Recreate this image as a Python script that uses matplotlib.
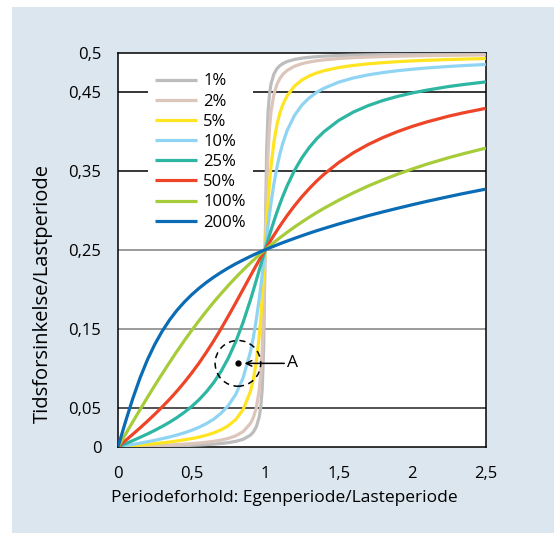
import matplotlib.pyplot as plt
from matplotlib.patches import Ellipse, Rectangle

plt.rcParams['font.family'] = ['Open Sans', 'DejaVu Sans']

# period ratio (eigenperiod / load period)
ratio = [0, 0.05, 0.1, 0.15, 0.2, 0.25, 0.3, 0.35, 0.4, 0.45, 0.5, 0.55, 0.6, 0.65, 0.7, 0.75,
         0.8, 0.85, 0.9, 0.92, 0.94, 0.96, 0.97, 0.98, 0.99, 1.0, 1.01, 1.02, 1.03, 1.04, 1.06,
         1.08, 1.1, 1.12, 1.15, 1.2, 1.25, 1.3, 1.35, 1.4, 1.5, 1.6, 1.7, 1.8, 1.9, 2.0, 2.1,
         2.25, 2.35, 2.5]

# time delay / load period, one list per damping level
d1 = [0, 0.0002, 0.0003, 0.0005, 0.0007, 0.0008, 0.0010, 0.0013, 0.0015, 0.0018, 0.0021, 0.0025,
      0.0030, 0.0036, 0.0044, 0.0055, 0.0071, 0.0097, 0.0150, 0.0190, 0.0255, 0.0382, 0.0505,
      0.0731, 0.1246, 0.25, 0.3746, 0.4256, 0.4481, 0.4603, 0.4730, 0.4795, 0.4834, 0.4860,
      0.4887, 0.4913, 0.4929, 0.4940, 0.4948, 0.4954, 0.4962, 0.4967, 0.4971, 0.4974, 0.4977,
      0.4979, 0.4980, 0.4982, 0.4983, 0.4985]
d2 = [0, 0.0003, 0.0006, 0.0010, 0.0013, 0.0017, 0.0021, 0.0025, 0.0030, 0.0036, 0.0042, 0.0050,
      0.0060, 0.0072, 0.0087, 0.0109, 0.0141, 0.0194, 0.0298, 0.0374, 0.0497, 0.0725, 0.0924,
      0.1242, 0.1759, 0.25, 0.3235, 0.3742, 0.4053, 0.4250, 0.4474, 0.4596, 0.4671, 0.4723,
      0.4774, 0.4827, 0.4859, 0.4880, 0.4896, 0.4907, 0.4924, 0.4935, 0.4943, 0.4949, 0.4954,
      0.4958, 0.4961, 0.4965, 0.4967, 0.4970]
d5 = [0, 0.0008, 0.0016, 0.0024, 0.0033, 0.0042, 0.0052, 0.0063, 0.0076, 0.0090, 0.0106, 0.0125,
      0.0149, 0.0178, 0.0217, 0.0270, 0.0348, 0.0473, 0.0704, 0.0859, 0.1081, 0.1410, 0.1629,
      0.1889, 0.2184, 0.25, 0.2813, 0.3100, 0.3350, 0.3559, 0.3872, 0.4084, 0.4233, 0.4340,
      0.4454, 0.4576, 0.4652, 0.4704, 0.4741, 0.4770, 0.4810, 0.4837, 0.4857, 0.4872, 0.4884,
      0.4894, 0.4902, 0.4912, 0.4917, 0.4924]
d10 = [0, 0.0016, 0.0032, 0.0049, 0.0066, 0.0085, 0.0105, 0.0127, 0.0151, 0.0179, 0.0211, 0.0249,
       0.0295, 0.0352, 0.0427, 0.0526, 0.0666, 0.0875, 0.1207, 0.1392, 0.1618, 0.1883, 0.2029,
       0.2183, 0.2341, 0.25, 0.2658, 0.2811, 0.2958, 0.3095, 0.3340, 0.3545, 0.3713, 0.3851,
       0.4014, 0.4205, 0.4334, 0.4426, 0.4495, 0.4548, 0.4625, 0.4678, 0.4717, 0.4746, 0.4770,
       0.4789, 0.4805, 0.4824, 0.4835, 0.4849]
d25 = [0, 0.0040, 0.0080, 0.0122, 0.0165, 0.0211, 0.0260, 0.0313, 0.0372, 0.0438, 0.0512, 0.0598,
       0.0698, 0.0816, 0.0957, 0.1128, 0.1334, 0.1579, 0.1864, 0.1987, 0.2114, 0.2242, 0.2307,
       0.2372, 0.2436, 0.25, 0.2563, 0.2626, 0.2687, 0.2748, 0.2865, 0.2976, 0.3080, 0.3178,
       0.3313, 0.3507, 0.3666, 0.3797, 0.3906, 0.3997, 0.4140, 0.4246, 0.4327, 0.4392, 0.4444,
       0.4488, 0.4524, 0.4570, 0.4595, 0.4628]
d50 = [0, 0.0080, 0.0160, 0.0242, 0.0327, 0.0415, 0.0507, 0.0604, 0.0707, 0.0818, 0.0936, 0.1062,
       0.1199, 0.1344, 0.1498, 0.1660, 0.1827, 0.1998, 0.2169, 0.2237, 0.2304, 0.2370, 0.2403,
       0.2436, 0.2468, 0.25, 0.2532, 0.2563, 0.2594, 0.2625, 0.2685, 0.2743, 0.2800, 0.2855,
       0.2935, 0.3059, 0.3173, 0.3276, 0.3371, 0.3457, 0.3606, 0.3730, 0.3834, 0.3922, 0.3998,
       0.4064, 0.4121, 0.4195, 0.4237, 0.4293]
d100 = [0, 0.0159, 0.0317, 0.0474, 0.0628, 0.0780, 0.0927, 0.1071, 0.1211, 0.1346, 0.1476, 0.1600,
        0.1720, 0.1835, 0.1943, 0.2048, 0.2148, 0.2243, 0.2333, 0.2367, 0.2402, 0.2435, 0.2452,
        0.2468, 0.2484, 0.25, 0.2516, 0.2532, 0.2547, 0.2562, 0.2593, 0.2622, 0.2652, 0.2680,
        0.2722, 0.2789, 0.2852, 0.2913, 0.2971, 0.3026, 0.3128, 0.3222, 0.3308, 0.3386, 0.3458,
        0.3524, 0.3586, 0.3669, 0.3719, 0.3789]
d200 = [0, 0.0315, 0.0611, 0.0877, 0.1106, 0.1301, 0.1467, 0.1609, 0.1731, 0.1836, 0.1929, 0.2011,
        0.2085, 0.2152, 0.2213, 0.2270, 0.2322, 0.2370, 0.2416, 0.2434, 0.2451, 0.2468, 0.2476,
        0.2484, 0.2492, 0.25, 0.2508, 0.2516, 0.2523, 0.2531, 0.2546, 0.2561, 0.2576, 0.2590,
        0.2611, 0.2645, 0.2678, 0.2710, 0.2741, 0.2770, 0.2827, 0.2880, 0.2932, 0.2980, 0.3026,
        0.3071, 0.3114, 0.3175, 0.3214, 0.3269]

series = [d1, d2, d5, d10, d25, d50, d100, d200]
labels = ['1%', '2%', '5%', '10%', '25%', '50%', '100%', '200%']
colors = ['#bdbdbd', '#dcc6bc', '#ffe422', '#8fd5f3', '#2db6a2', '#ee4427', '#a6cc3a', '#0a6cb4']

yticks = [0, 0.05, 0.15, 0.25, 0.35, 0.45, 0.5]
ytick_labels = ['0', '0,05', '0,15', '0,25', '0,35', '0,45', '0,5']
xticks = [0, 0.5, 1, 1.5, 2, 2.5]
xtick_labels = ['0', '0,5', '1', '1,5', '2', '2,5']

fig = plt.figure(figsize=(5.54, 5.33), dpi=100)
fig.patches.append(Rectangle((12 / 554, 0), 1, 1 - 7 / 533, transform=fig.transFigure,
                             facecolor='#dce6ef', edgecolor='none', zorder=-10))
ax = fig.add_axes([0.213, 0.1614, 0.664, 0.740])

# horizontal reference lines
for lvl, c in zip([0.05, 0.15, 0.25, 0.35, 0.45], ['#222222', '#808080', '#808080', 'black', 'black']):
    ax.axhline(lvl, color=c, lw=1.1, zorder=1)

for y, lab, c in zip(series, labels, colors):
    ax.plot(ratio, y, color=c, lw=2.3, label=lab, zorder=3,
            solid_capstyle='butt', solid_joinstyle='round')

# marked point A
ax.add_patch(Ellipse((0.815, 0.106), 0.31, 0.058, fill=False, ls=(0, (4, 3)), lw=1.1, zorder=4))
ax.plot([0.815], [0.106], 'o', color='black', ms=3.5, zorder=5)
ax.annotate('', xy=(0.86, 0.106), xytext=(1.13, 0.106),
            arrowprops=dict(arrowstyle='->', lw=1.1, color='black', shrinkA=0, shrinkB=0), zorder=5)
ax.text(1.15, 0.106, 'A', fontsize=12.5, ha='left', va='center')

ax.set_xlim(0, 2.5)
ax.set_ylim(0, 0.5)
ax.set_xticks(xticks)
ax.set_xticklabels(xtick_labels, fontsize=12)
ax.set_yticks(yticks)
ax.set_yticklabels(ytick_labels, fontsize=12)
ax.tick_params(axis='y', length=0, pad=12)
ax.tick_params(axis='x', length=0, pad=14)
for s in ax.spines.values():
    s.set_linewidth(1.1)
ax.set_xlabel('Periodeforhold: Egenperiode/Lasteperiode', fontsize=12.5)
ax.set_ylabel('Tidsforsinkelse/Lastperiode', fontsize=14.5)
ax.xaxis.set_label_coords(0.451, -0.108)
ax.yaxis.set_label_coords(-0.178, 0.39)

leg = ax.legend(loc='upper left', bbox_to_anchor=(0.06, 0.985), fontsize=12, frameon=True,
                facecolor='white', edgecolor='none', framealpha=1, fancybox=False,
                handlelength=2.5, handletextpad=0.4, labelspacing=0.25, borderpad=0.4)
leg.set_zorder(6)

fig.savefig('out.png', dpi=100)
